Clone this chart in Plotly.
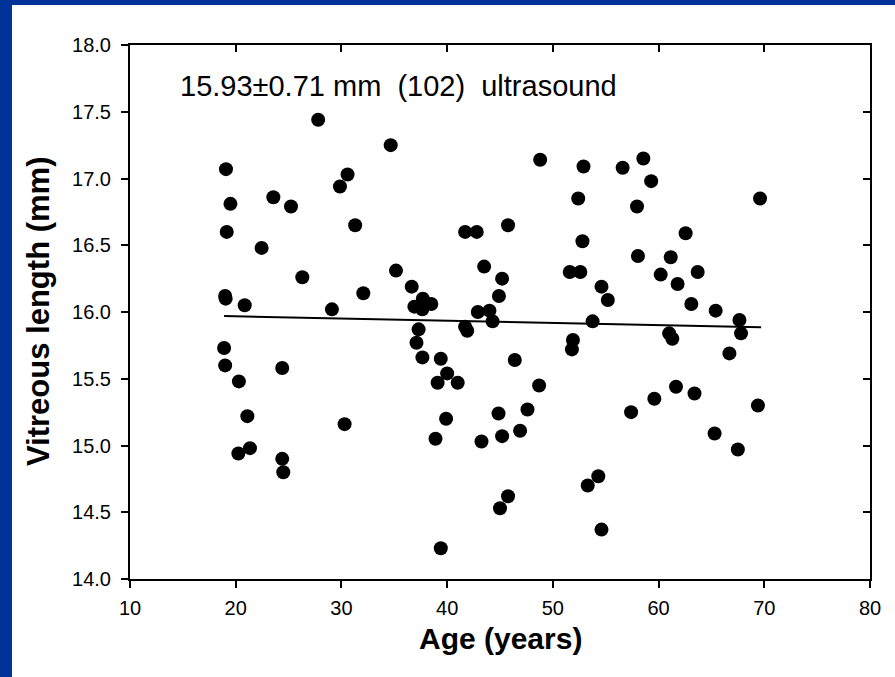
import plotly.graph_objects as go

# ---- data ----
age = [19.08, 19.5, 19.15, 19.0, 19.05, 20.85, 18.9, 19.0, 20.3, 21.1,
       24.4, 30.3, 26.3, 29.1, 32.07, 20.25, 21.35, 24.4, 24.5, 22.45,
       23.56, 25.23, 27.8, 30.58, 29.86, 31.3, 34.66, 48.8, 52.9, 52.4,
       41.7, 42.8, 45.76, 52.8, 35.16, 43.5, 51.6, 52.6, 58.56, 56.6,
       59.3, 57.96, 69.6, 62.56, 58.05, 61.15, 60.2, 63.7, 45.2, 36.65,
       44.9, 54.6, 55.2, 37.7, 38.5, 36.9, 37.65, 42.9, 44.0, 44.3,
       53.76, 37.3, 41.7, 41.9, 37.1, 51.9, 51.8, 37.66, 39.4, 46.4,
       40.0, 39.1, 41.0, 48.7, 39.9, 44.86, 47.6, 46.9, 45.2, 38.9,
       43.25, 54.3, 53.3, 45.76, 45.0, 54.6, 39.4, 61.8, 63.1, 65.4,
       67.65, 67.8, 61.0, 61.3, 66.7, 61.65, 63.4, 59.6, 57.4, 69.4,
       65.3, 67.5]
vitreous_length = [17.07, 16.81, 16.60, 16.12, 16.10, 16.05, 15.73, 15.60, 15.48, 15.22,
                   15.58, 15.16, 16.26, 16.02, 16.14, 14.94, 14.98, 14.90, 14.80, 16.48,
                   16.86, 16.79, 17.44, 17.03, 16.94, 16.65, 17.25, 17.14, 17.09, 16.85,
                   16.60, 16.60, 16.65, 16.53, 16.31, 16.34, 16.30, 16.30, 17.15, 17.08,
                   16.98, 16.79, 16.85, 16.59, 16.42, 16.41, 16.28, 16.30, 16.25, 16.19,
                   16.12, 16.19, 16.09, 16.10, 16.06, 16.04, 16.02, 16.00, 16.01, 15.93,
                   15.93, 15.87, 15.89, 15.86, 15.77, 15.79, 15.72, 15.66, 15.65, 15.64,
                   15.54, 15.47, 15.47, 15.45, 15.20, 15.24, 15.27, 15.11, 15.07, 15.05,
                   15.03, 14.77, 14.70, 14.62, 14.53, 14.37, 14.23, 16.21, 16.06, 16.01,
                   15.94, 15.84, 15.84, 15.80, 15.69, 15.44, 15.39, 15.35, 15.25, 15.30,
                   15.09, 14.97]

fit_age = [18.9, 69.7]
fit_length = [15.97, 15.886]

x_ticks = [10, 20, 30, 40, 50, 60, 70, 80]
y_ticks = [14.0, 14.5, 15.0, 15.5, 16.0, 16.5, 17.0, 17.5, 18.0]
y_tick_labels = ["14.0", "14.5", "15.0", "15.5", "16.0", "16.5", "17.0", "17.5", "18.0"]

stat_text = "15.93±0.71 mm\u00a0 (102)\u00a0 ultrasound"
x_title = "Age (years)"
y_title = "Vitreous length (mm)"

FONT = "Liberation Sans, Arial, sans-serif"
BLUE = "#003399"

fig = go.Figure()
fig.add_trace(go.Scatter(x=age, y=vitreous_length, mode="markers",
                         marker=dict(size=14, color="black", line=dict(width=0)),
                         showlegend=False, hoverinfo="skip"))
fig.add_trace(go.Scatter(x=fit_age, y=fit_length, mode="lines",
                         line=dict(color="black", width=2),
                         showlegend=False, hoverinfo="skip"))
# invisible trace to activate the mirror axes (top/right inside ticks)
fig.add_trace(go.Scatter(x=[fit_age[0]], y=[fit_length[0]], xaxis="x2", yaxis="y2",
                         mode="markers", marker=dict(opacity=0),
                         showlegend=False, hoverinfo="skip"))

axis_common = dict(showgrid=False, zeroline=False, ticklen=7, tickwidth=2,
                   tickcolor="black")

fig.update_layout(
    width=895, height=677,
    margin=dict(l=130, r=25, t=45, b=98),
    paper_bgcolor="white", plot_bgcolor="white",
    xaxis=dict(range=[10, 80], tickvals=x_ticks, ticks="outside",
               showline=True, linecolor="black", linewidth=2, mirror=True,
               ticklabelstandoff=3,
               tickfont=dict(family=FONT, size=20, color="black"), **axis_common),
    yaxis=dict(range=[14, 18], tickvals=y_ticks, ticktext=y_tick_labels, ticks="outside",
               showline=True, linecolor="black", linewidth=2, mirror=True,
               ticklabelstandoff=6,
               tickfont=dict(family=FONT, size=20, color="black"), **axis_common),
    xaxis2=dict(range=[10, 80], tickvals=x_ticks, ticks="inside", overlaying="x",
                side="top", showticklabels=False, showline=False, **axis_common),
    yaxis2=dict(range=[14, 18], tickvals=y_ticks, ticks="inside", overlaying="y",
                side="right", showticklabels=False, showline=False, **axis_common),
    shapes=[
        dict(type="rect", xref="paper", yref="paper", layer="below",
             x0=-130 / 740, x1=(12 - 130) / 740, y0=-98 / 534, y1=(579 + 0) / 534 + 45 / 534,
             fillcolor=BLUE, line=dict(width=0)),
        dict(type="rect", xref="paper", yref="paper", layer="below",
             x0=-130 / 740, x1=765 / 740, y0=1 + 40 / 534, y1=1 + 45 / 534,
             fillcolor=BLUE, line=dict(width=0)),
    ],
    annotations=[
        dict(text=stat_text, xref="paper", yref="paper", x=(178 - 130) / 740,
             y=(579 - 86) / 534, xanchor="left", yanchor="middle", showarrow=False,
             font=dict(family=FONT, size=29, color="black")),
        dict(text="<b>" + x_title + "</b>", xref="paper", yref="paper", x=0.5,
             y=(579 - 638) / 534, xanchor="center", yanchor="middle", showarrow=False,
             font=dict(family=FONT, size=30, color="black")),
        dict(text="<b>" + y_title + "</b>", xref="paper", yref="paper",
             x=(38 - 130) / 740, y=0.5, xanchor="center", yanchor="middle",
             textangle=-90, showarrow=False,
             font=dict(family=FONT, size=31, color="black")),
    ],
)

fig.write_html("out.html")
